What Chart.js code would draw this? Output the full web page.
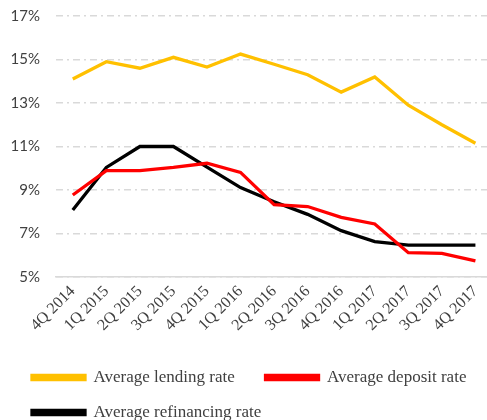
<!DOCTYPE html>
<html>
<head>
<meta charset="utf-8">
<script src="https://cdn.jsdelivr.net/npm/chart.js@4"></script>
<style>
  html, body { margin: 0; padding: 0; background: #fff; overflow: hidden; }
  #wrap { width: 494px; height: 420px; }
</style>
</head>
<body>
<div id="wrap"><canvas id="rateChart"></canvas></div>
<script>
const quarters = ['4Q 2014', '1Q 2015', '2Q 2015', '3Q 2015', '4Q 2015', '1Q 2016', '2Q 2016',
                  '3Q 2016', '4Q 2016', '1Q 2017', '2Q 2017', '3Q 2017', '4Q 2017'];
const lendingRate = [14.1, 14.9, 14.6, 15.1, 14.65, 15.25, 14.78, 14.3, 13.5, 14.2, 12.9, 12.0, 11.15];
const depositRate = [8.77, 9.89, 9.89, 10.04, 10.23, 9.81, 8.33, 8.24, 7.74, 7.44, 6.12, 6.09, 5.74];
const refinancingRate = [8.08, 10.04, 11.0, 11.0, 10.05, 9.11, 8.46, 7.88, 7.13, 6.63, 6.47, 6.47, 6.47];
const yTicks = [5, 7, 9, 11, 13, 15, 17];

const serif = '"Liberation Serif", "DejaVu Serif", serif';

// put the legend where the original has it
const legendShift = {
    id: 'legendShift',
    afterLayout(chart) {
        chart.legend.left = 14;
        chart.legend.top = 351;
    }
};

function line(label, data, color) {
    return {
        label: label,
        data: data,
        borderColor: color,
        backgroundColor: color,
        borderWidth: 3.3,
        pointRadius: 0,
        tension: 0,
        fill: false
    };
}

const ctx = document.getElementById('rateChart').getContext('2d');
new Chart(ctx, {
    type: 'line',
    data: {
        labels: quarters,
        datasets: [
            line('Average lending rate', lendingRate, '#FFC000'),
            line('Average deposit rate', depositRate, '#FF0000'),
            line('Average refinancing rate', refinancingRate, '#000000')
        ]
    },
    options: {
        responsive: true,
        maintainAspectRatio: false,
        animation: false,
        layout: { padding: { top: 16, left: 0, right: 0, bottom: 0 } },
        plugins: {
            tooltip: { enabled: false },
            legend: {
                position: 'bottom',
                align: 'start',
                labels: {
                    boxWidth: 53,
                    boxHeight: 4,
                    padding: 18,
                    color: '#404040',
                    font: { family: serif, size: 17 },
                    generateLabels(chart) {
                        const items = Chart.defaults.plugins.legend.labels.generateLabels(chart);
                        items[0].text += '   ';
                        return items;
                    }
                }
            }
        },
        scales: {
            x: {
                offset: true,
                grid: { display: false, drawTicks: false },
                border: { display: true, color: '#d9d9d9', width: 1.5 },
                ticks: {
                    autoSkip: false,
                    maxRotation: 45,
                    minRotation: 45,
                    padding: 5,
                    color: '#404040',
                    font: { family: serif, size: 16 }
                },
                afterFit(scale) { scale.height = 63; }
            },
            y: {
                min: 5,
                max: 17,
                afterBuildTicks(scale) { scale.ticks = yTicks.map(v => ({ value: v })); },
                grid: {
                    drawTicks: true,
                    tickLength: 16,
                    tickColor: 'rgba(0,0,0,0)',
                    color: '#d9d9d9',
                    lineWidth: 1.5
                },
                border: { display: false, dash: [7, 4, 2, 4] },
                ticks: {
                    padding: 0,
                    color: '#404040',
                    font: { family: 'Lato, "Open Sans", sans-serif', size: 15 },
                    callback: v => v + '%'
                },
                afterFit(scale) { scale.width = 56; }
            }
        }
    },
    plugins: [legendShift]
});
</script>
</body>
</html>
